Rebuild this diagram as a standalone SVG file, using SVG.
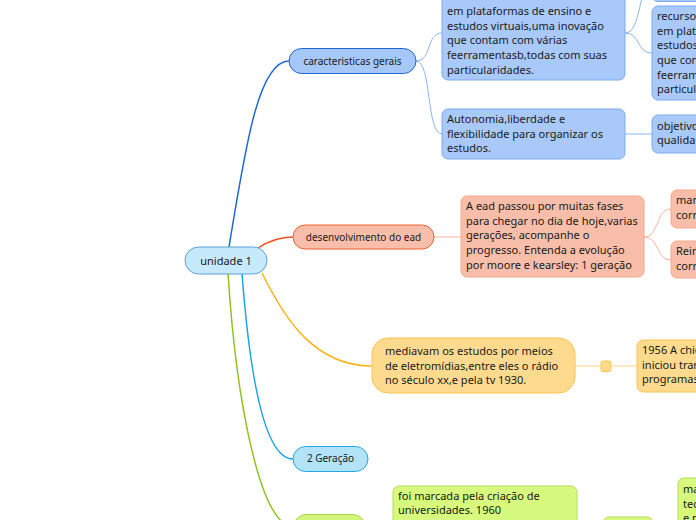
<svg xmlns="http://www.w3.org/2000/svg" width="696" height="520" viewBox="0 0 696 520">
<style>
text{font-family:"Noto Sans","Open Sans","DejaVu Sans",sans-serif;fill:#1a1a1a}
.lbl{font-size:10px;text-anchor:middle}
.body{font-size:11px}
.c{fill:none}
.blue2{fill:#a9c9fa;stroke:#7eaaee;stroke-width:1}
.sal2{fill:#f9bea9;stroke:#f6a78b;stroke-width:1}
.amb2{fill:#fdda8e;stroke:#f9c550;stroke-width:1}
.grn2{fill:#d7f97d;stroke:#b6de5b;stroke-width:1}
</style>
<rect width="696" height="520" fill="#ffffff"/>
<g id="connectors" fill="none">
<path d="M229,247 C245,150 258,61 289,61" stroke="#1e66d6" stroke-width="1.5"/>
<path d="M258,248 C270,240 280,237 293,237" stroke="#f4511e" stroke-width="1.5"/>
<path d="M262,273 C285,320 315,366 372,366" stroke="#f8b418" stroke-width="1.5"/>
<path d="M242,273 C250,380 265,459 293,459" stroke="#1aa3e8" stroke-width="1.5"/>
<path d="M228,273 C236,400 260,527 294,527" stroke="#8fc31f" stroke-width="1.5"/>
<path d="M416,61 C432,61 426,33 442,33" stroke="#8ab4f0"/>
<path d="M416,61 C432,61 426,134 442,134" stroke="#8ab4f0"/>
<path d="M625,33 C641,33 636,53 652,53" stroke="#8ab4f0"/>
<path d="M625,33 C641,33 638,-10 652,-25" stroke="#8ab4f0"/>
<path d="M625,134 L652,134" stroke="#8ab4f0"/>
<path d="M434,237 L461,237" stroke="#f7b39b"/>
<path d="M644,237 C660,237 655,209 671,209" stroke="#f7b39b"/>
<path d="M644,237 C660,237 655,260 671,260" stroke="#f7b39b"/>
<path d="M575,366 L637,366" stroke="#fbd27a"/>
</g>
<g id="root">
<rect x="185" y="247" width="82" height="27" rx="13.5" fill="#c6e9fb" stroke="#5f9fd8"/>
<text x="226" y="264.5" class="lbl" style="font-size:11px">unidade 1</text>
</g>
<g id="caracteristicas">
<rect x="289" y="48.5" width="127" height="25" rx="12.5" fill="#a6c8f8" stroke="#1e66d6"/>
<text x="352.5" y="64.5" class="lbl">caracteristicas gerais</text>
</g>
<g id="plataformas">
<rect x="442" y="-14" width="183" height="94" rx="6" class="blue2"/>
<text class="body" x="447"><tspan x="447" y="15">em plataformas de ensino e</tspan><tspan x="447" y="29.7">estudos virtuais,uma inovação</tspan><tspan x="447" y="44.4">que contam com várias</tspan><tspan x="447" y="59">feerramentasb,todas com suas</tspan><tspan x="447" y="73.7">particularidades.</tspan></text>
</g>
<g id="topnode">
<rect x="652" y="-60" width="120" height="61.5" rx="6" class="blue2"/>
</g>
<g id="recurso">
<rect x="652" y="6" width="120" height="94" rx="6" class="blue2"/>
<text class="body"><tspan x="657" y="20">recurso</tspan><tspan x="657" y="34.7">em plat</tspan><tspan x="657" y="49.4">estudos</tspan><tspan x="657" y="64">que con</tspan><tspan x="657" y="78.7">feerram</tspan><tspan x="657" y="93.4">particul</tspan></text>
</g>
<g id="autonomia">
<rect x="442" y="109" width="183" height="50" rx="6" class="blue2"/>
<text class="body"><tspan x="447" y="123">Autonomia,liberdade e</tspan><tspan x="447" y="137.7">flexibilidade para organizar os</tspan><tspan x="447" y="152.4">estudos.</tspan></text>
</g>
<g id="objetivo">
<rect x="652" y="115" width="120" height="38" rx="6" class="blue2"/>
<text class="body"><tspan x="657" y="129.5">objetivo</tspan><tspan x="657" y="144.2">qualida</tspan></text>
</g>
<g id="desenvolvimento">
<rect x="293" y="225" width="141" height="24" rx="12" fill="#f9bea9" stroke="#f2602d"/>
<text x="363.5" y="240.5" class="lbl">desenvolvimento do ead</text>
</g>
<g id="aead">
<rect x="461" y="196" width="183" height="81" rx="6" class="sal2"/>
<text class="body"><tspan x="466" y="210">A ead passou por muitas fases</tspan><tspan x="466" y="224.7">para chegar no dia de hoje,varias</tspan><tspan x="466" y="239.4">gerações, acompanhe o</tspan><tspan x="466" y="254">progresso. Entenda a evolução</tspan><tspan x="466" y="268.8">por moore e kearsley: 1 geração</tspan></text>
</g>
<g id="mar">
<rect x="671" y="190" width="120" height="38" rx="6" class="sal2"/>
<text class="body"><tspan x="676" y="204">mar</tspan><tspan x="676" y="218.7">corr</tspan></text>
</g>
<g id="rein">
<rect x="671" y="241" width="120" height="37" rx="6" class="sal2"/>
<text class="body"><tspan x="676" y="255">Rein</tspan><tspan x="676" y="269.7">corr</tspan></text>
</g>
<g id="mediavam">
<rect x="372" y="338" width="203" height="55" rx="16" class="amb2"/>
<text class="body"><tspan x="385" y="355">mediavam os estudos por meios</tspan><tspan x="385" y="369.7">de eletromídias,entre eles o rádio</tspan><tspan x="385" y="384.4">no século xx,e pela tv 1930.</tspan></text>
</g>
<g id="square">
<rect x="601" y="361" width="10" height="10.5" rx="2" class="amb2"/>
</g>
<g id="n1956">
<rect x="637" y="340" width="120" height="52" rx="6" class="amb2"/>
<text class="body"><tspan x="642" y="354">1956 A chic</tspan><tspan x="642" y="368.7">iniciou tran</tspan><tspan x="642" y="383.4">programas</tspan></text>
</g>
<g id="geracao2">
<rect x="293" y="446.5" width="75" height="25" rx="12.5" fill="#b3e3f8" stroke="#24a6e4"/>
<text x="330.5" y="462" class="lbl">2 Geração</text>
</g>
<g id="greennode">
<rect x="294" y="514.5" width="71" height="25" rx="12" fill="#d4f57c" stroke="#a9d64e"/>
</g>
<g id="foimarcada">
<rect x="393" y="486" width="184" height="60" rx="6" class="grn2"/>
<text class="body"><tspan x="398" y="499.5">foi marcada pela criação de</tspan><tspan x="398" y="514.2">universidades. 1960</tspan></text>
</g>
<g id="greensmall">
<rect x="603" y="517" width="50" height="30" rx="6" class="grn2"/>
</g>
<g id="greenright">
<rect x="678" y="478" width="120" height="70" rx="6" class="grn2"/>
<text class="body"><tspan x="683" y="493">ma</tspan><tspan x="683" y="507.7">tec</tspan><tspan x="683" y="522.4">e r</tspan></text>
</g>
</svg>
